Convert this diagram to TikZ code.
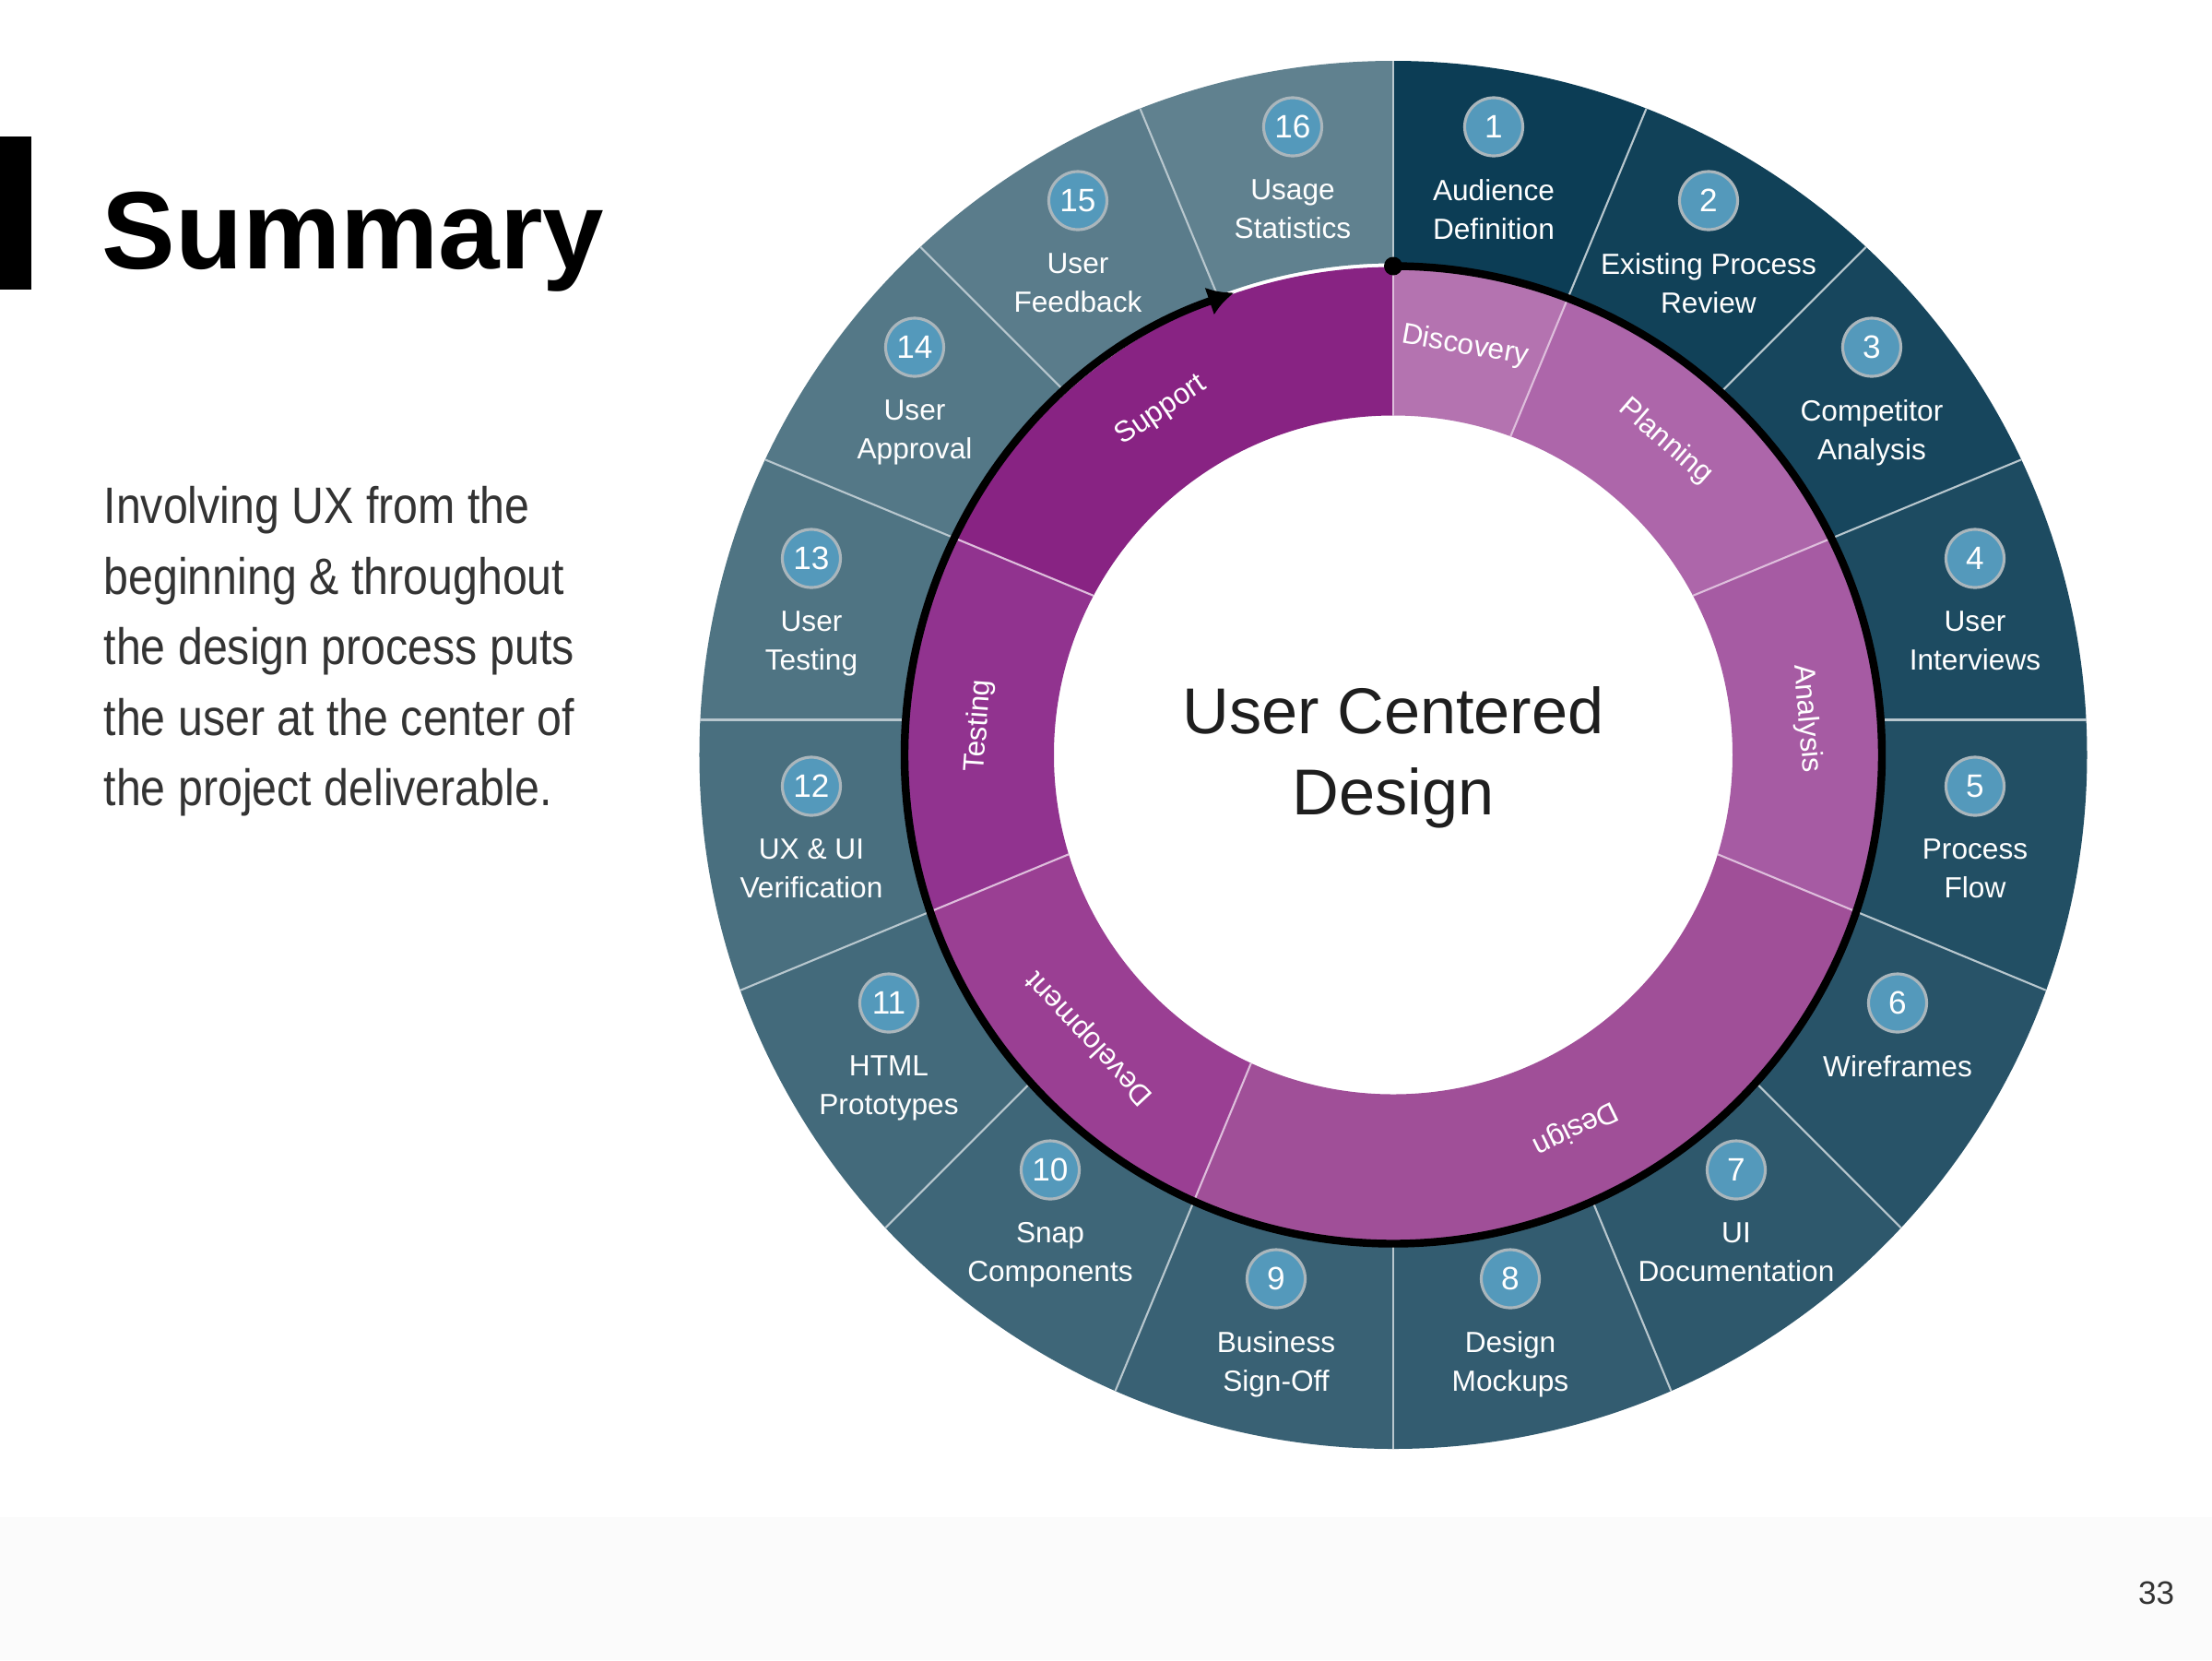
\documentclass[tikz,border=0pt]{standalone}
\usepackage{fontspec}
\setmainfont{Liberation Sans}
\newfontfamily\bodyfont[FakeStretch=0.87]{Liberation Sans}
\usepackage{tikz}
\usetikzlibrary{positioning,arrows.meta}

\definecolor{tealdark}{RGB}{12,61,85}
\definecolor{teallight}{RGB}{96,129,143}
\definecolor{divline}{RGB}{184,199,206}
\definecolor{numblue}{RGB}{84,153,187}
\definecolor{numring}{RGB}{170,182,188}
\definecolor{phasediv}{RGB}{222,190,220}
\definecolor{discovery}{RGB}{180,115,176}
\definecolor{planning}{RGB}{173,102,170}
\definecolor{analysis}{RGB}{166,91,163}
\definecolor{design}{RGB}{160,79,152}
\definecolor{development}{RGB}{154,63,147}
\definecolor{testing}{RGB}{145,51,143}
\definecolor{support}{RGB}{136,35,131}
\definecolor{centertext}{RGB}{30,30,30}

\tikzset{
  numcirc/.style={circle, fill=numblue, draw=numring, line width=0.9pt, minimum size=0.63cm, inner sep=0pt, text=white, font=\fontsize{10}{10}\selectfont},
  steplabel/.style={align=center, inner sep=0pt, text=white, font=\fontsize{9}{12}\selectfont},
  phaselabel/.style={inner sep=0pt, text=white, font=\fontsize{9}{9}\selectfont},
  divider/.style={draw=divline, line width=0.6pt},
  phasedivider/.style={draw=phasediv, line width=0.6pt},
  cycle arrow/.style={line width=2.4pt, -{Latex[length=8pt,width=9pt]}},
}

\begin{document}
\begin{tikzpicture}
    % Page frame and footer band
    \useasboundingbox (-15.11,-9.815) rectangle (8.88,8.185);
    \fill[gray!3] (-15.11,-9.815) rectangle (8.88,-8.265);

    % Title bar and title
    \fill (-15.11,6.705) rectangle (-14.77,5.045);
    \node[anchor=base west, inner sep=0pt, font=\bfseries\fontsize{34}{34}\selectfont] (title) at (-14.01,5.275) {Summary};

    % Body text
    \foreach \txt [count=\i from 0] in {Involving UX from the, beginning \& throughout, the design process puts, the user at the center of, the project deliverable.}
        \node[anchor=base west, inner sep=0pt, text=black!80, font=\bodyfont\fontsize{15.8}{20}\selectfont] (body\i) at (-13.99,2.509-0.765*\i) {\txt};

    % Segment lines fan out from a point a little above the centre
    \coordinate (hub) at (0,0.38);

    % Outer ring: sixteen steps
    \foreach \k in {1,...,16} {
        \pgfmathsetmacro\a{90-22.5*(\k-1)}
        \pgfmathsetmacro\b{90-22.5*\k}
        \pgfmathtruncatemacro\p{(\k-1)*100/15}
        \begin{scope}
            \clip (hub) -- ++(\a:9) arc[start angle=\a, end angle=\b, radius=9] -- cycle;
            \fill[teallight!\p!tealdark, even odd rule] (0,0) circle (7.525) (0,0) circle (5.33);
        \end{scope}
    }
    \foreach \k in {0,...,15} {
        \pgfmathsetmacro\a{90-22.5*\k}
        \pgfmathsetmacro\s{0.38*sin(\a)}
        \pgfmathsetmacro\ta{-\s+sqrt(\s*\s-0.1444+5.33*5.33)}
        \pgfmathsetmacro\tb{-\s+sqrt(\s*\s-0.1444+7.525*7.525)}
        \draw[divider, shift={(hub)}] (\a:\ta) -- (\a:\tb);
    }

    % Inner ring: phases
    \foreach \a/\b/\c in {90/67.5/discovery, 67.5/22.5/planning, 22.5/-22.5/analysis, -22.5/-112.5/design, -112.5/-157.5/development, -157.5/-202.5/testing, -202.5/-270/support} {
        \begin{scope}
            \clip (hub) -- ++(\a:9) arc[start angle=\a, end angle=\b, radius=9] -- cycle;
            \fill[\c, even odd rule] (0,0) circle (5.29) (0,0) circle (3.68);
        \end{scope}
    }
    \foreach \a in {90,67.5,22.5,-22.5,-112.5,-157.5,157.5} {
        \pgfmathsetmacro\s{0.38*sin(\a)}
        \pgfmathsetmacro\ta{-\s+sqrt(\s*\s-0.1444+3.68*3.68)}
        \pgfmathsetmacro\tb{-\s+sqrt(\s*\s-0.1444+5.29*5.29)}
        \draw[phasedivider, shift={(hub)}] (\a:\ta) -- (\a:\tb);
    }

    % Phase labels
    \foreach \a/\txt in {80/Discovery, 49/Planning, 5/Analysis, -64/Design, -137/Development, 176/Testing, 124/Support}
        \node[phaselabel, rotate=\a-90] (\txt) at (\a:4.5) {\txt};

    % Cycle arrow
    \coordinate (start) at (90:5.30);
    \draw[cycle arrow] (start) arc[start angle=90, end angle=-251, radius=5.30];
    \fill (start) circle (0.1);

    % Centre title
    \node[align=center, text=centertext, font=\fontsize{20}{25.2}\selectfont] (ucd) at (0,-0.03) {User Centered\\Design};

    % Steps
    \foreach \k/\x/\y/\txt in {1/1.09/6.81/{Audience\\Definition}, 2/3.42/6.01/{Existing Process\\Review}, 3/5.19/4.42/{Competitor\\Analysis}, 4/6.31/2.13/{User\\Interviews}, 5/6.31/-0.34/{Process\\Flow}, 6/5.47/-2.69/{Wireframes}, 7/3.72/-4.50/{UI\\Documentation}, 8/1.27/-5.68/{Design\\Mockups}, 9/-1.27/-5.68/{Business\\Sign-Off}, 10/-3.72/-4.50/{Snap\\Components}, 11/-5.47/-2.69/{HTML\\Prototypes}, 12/-6.31/-0.34/{UX \& UI\\Verification}, 13/-6.31/2.13/{User\\Testing}, 14/-5.19/4.42/{User\\Approval}, 15/-3.42/6.01/{User\\Feedback}, 16/-1.09/6.81/{Usage\\Statistics}} {
        \node[numcirc] (n\k) at (\x,\y) {\k};
        \node[steplabel, below=2.3mm of n\k] (s\k) {\txt};
    }

    % Page number
    \node[text=black!80, font=\fontsize{10}{10}\selectfont] (page) at (8.277,-9.085) {33};
\end{tikzpicture}
\end{document}
